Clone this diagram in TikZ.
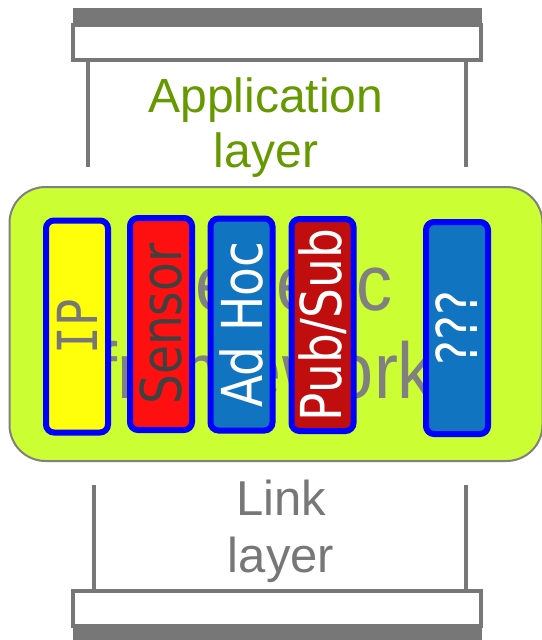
\documentclass[tikz,border=0pt]{standalone}
\usepackage{fontspec}
\usepackage{graphicx}
\setmainfont{Liberation Sans}
\newfontfamily\colfont{DejaVu Sans}
\newfontfamily\ipfont{DejaVu Sans Mono}

\definecolor{appgreen}{RGB}{102,153,0}
\definecolor{fwgreen}{RGB}{204,255,51}
\definecolor{linegray}{RGB}{119,119,119}
\definecolor{fwtext}{RGB}{128,128,128}
\definecolor{ipyellow}{RGB}{255,255,12}
\definecolor{sensorred}{RGB}{255,16,16}
\definecolor{sensortext}{RGB}{64,64,64}
\definecolor{adhocblue}{RGB}{16,116,192}
\definecolor{pubsubred}{RGB}{192,14,14}
\newcommand{\tall}[2][1.2]{\scalebox{1}[#1]{#2}}

\begin{document}
\begin{tikzpicture}[x=1pt,y=-1pt,
    layerbox/.style={draw=linegray,line width=3.5,fill=white,inner sep=0,
      minimum width=408,minimum height=35},
    bar/.style={fill=linegray},
    leg/.style={draw=linegray,line width=3.5},
    fwbox/.style={draw=fwtext,line width=2,fill=fwgreen,rounded corners=36,
      minimum width=533,minimum height=274},
    proto/.style={draw=blue,line width=6,rounded corners=8,rotate=90,
      minimum width=212,minimum height=62,inner sep=0,
      font=\colfont\fontsize{47}{56}\selectfont}]
  \useasboundingbox (0,0) rectangle (541,640);

  % application layer
  \node[layerbox] (app) at (277,42.5) {};
  \fill[bar] (72.5,8) rectangle (482,24.5);
  \coordinate (appl) at (88,167);
  \coordinate (appr) at (466,167);
  \draw[leg] (app.south -| appl) -- (appl);
  \draw[leg] (app.south -| appr) -- (appr);
  \node[text=appgreen,font=\fontsize{48}{55}\selectfont,align=center,
    anchor=north,inner sep=0] (applabel) at (266,77.6) {Application\\layer};

  % framework
  \node[fwbox] (fw) at (276,324) {};
  \node[text=fwtext,font=\fontsize{72}{80}\selectfont,anchor=base,inner sep=0]
    (gen) at (266,310)
    {\tall[1.1]{\begin{tabular}[t]{@{}c@{}}Generic\\framework\end{tabular}}};

  \node[proto,fill=ipyellow,text=linegray,font=\ipfont\fontsize{46}{56}\selectfont]
    (ip) at (77,326.5) {\tall{IP}};
  \node[proto,fill=sensorred,text=sensortext] (sensor) at (161,324) {\tall{Sensor}};
  \node[proto,fill=adhocblue,text=white] (adhoc) at (241.5,324.5) {\tall{Ad Hoc}};
  \node[proto,fill=pubsubred,text=white] (pubsub) at (322.5,325) {\tall{Pub/Sub}};
  \node[proto,fill=adhocblue,text=white] (other) at (457,328) {\tall{???}};

  % link layer
  \node[layerbox] (link) at (277,608.5) {};
  \fill[bar] (72.5,627) rectangle (482,645);
  \coordinate (linkl) at (94,485);
  \coordinate (linkr) at (466,485);
  \draw[leg] (linkl) -- (link.north -| linkl);
  \draw[leg] (linkr) -- (link.north -| linkr);
  \node[text=linegray,font=\fontsize{49}{57}\selectfont,align=center,
    anchor=north,inner sep=0] (linklabel) at (281,480) {Link\\layer};
\end{tikzpicture}
\end{document}
